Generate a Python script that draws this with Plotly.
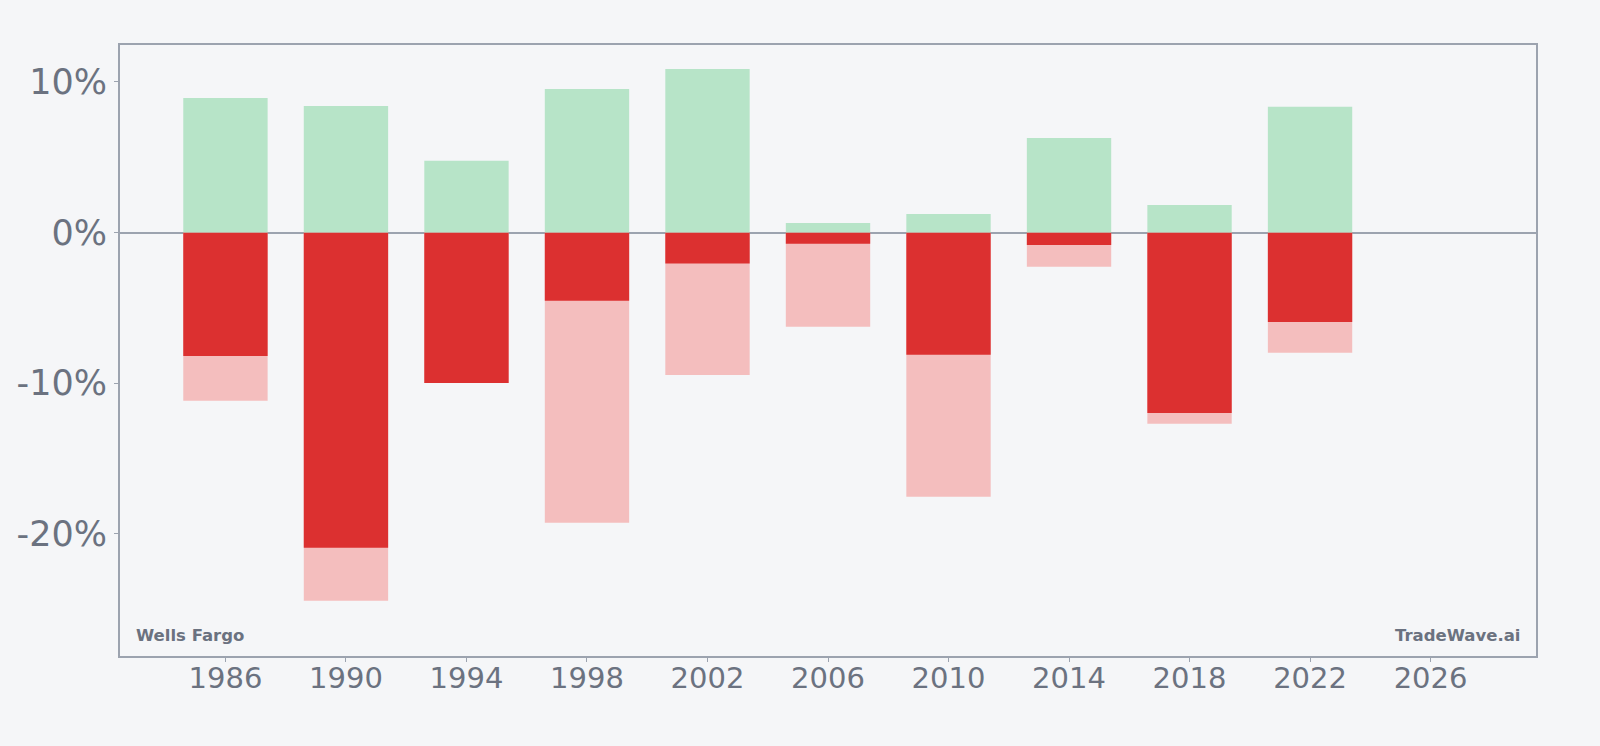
import plotly.graph_objects as go

years = [1986, 1990, 1994, 1998, 2002, 2006, 2010, 2014, 2018, 2022]
high_pct = [8.93, 8.40, 4.77, 9.53, 10.86, 0.63, 1.23, 6.27, 1.83, 8.35]
close_neg_pct = [-8.20, -20.93, -9.99, -4.53, -2.05, -0.74, -8.12, -0.83, -11.99, -5.94]
low_pct = [-11.17, -24.45, -9.99, -19.27, -9.46, -6.25, -17.54, -2.27, -12.70, -7.98]

x_ticks = [1986, 1990, 1994, 1998, 2002, 2006, 2010, 2014, 2018, 2022, 2026]
y_ticks = [-20, -10, 0, 10]
y_tick_labels = ["-20%", "-10%", "0%", "10%"]

BG = "#f5f6f8"
TXT = "#6b7280"
AX = "#9ca3af"

fig = go.Figure()
fig.add_trace(go.Bar(x=years, y=low_pct, width=2.8, marker=dict(color="#f4bebe", line=dict(width=0)),
                     name="Low", showlegend=False))
fig.add_trace(go.Bar(x=years, y=close_neg_pct, width=2.8, marker=dict(color="#dc3030", line=dict(width=0)),
                     name="Decline", showlegend=False))
fig.add_trace(go.Bar(x=years, y=high_pct, width=2.8, marker=dict(color="#b7e4c8", line=dict(width=0)),
                     name="Gain", showlegend=False))

fig.update_layout(
    barmode="overlay",
    width=1600, height=746,
    margin=dict(l=120, r=64, t=45, b=90),
    paper_bgcolor=BG, plot_bgcolor=BG,
    font=dict(family="DejaVu Sans", color=TXT),
    xaxis=dict(range=[1982.5, 2029.5], tickvals=x_ticks, ticks="outside", ticklen=4, tickcolor=AX,
               ticklabelstandoff=-9,
               tickfont=dict(size=29, color=TXT), showgrid=False, zeroline=False,
               showline=True, linecolor=AX, linewidth=2, mirror=True),
    yaxis=dict(range=[-28.12, 12.45], tickvals=y_ticks, ticktext=y_tick_labels, ticks="outside", ticklen=4,
               tickcolor=AX, tickfont=dict(size=35, color=TXT), showgrid=False,
               zeroline=True, zerolinecolor=AX, zerolinewidth=2, layer="above traces",
               showline=True, linecolor=AX, linewidth=2, mirror=True),
    annotations=[
        dict(text="<b>Wells Fargo</b>", xref="paper", yref="paper", x=0.01, y=0.015,
             xanchor="left", yanchor="bottom", showarrow=False, font=dict(size=16.5, color=TXT)),
        dict(text="<b>TradeWave.ai</b>", xref="paper", yref="paper", x=0.99, y=0.015,
             xanchor="right", yanchor="bottom", showarrow=False, font=dict(size=16.5, color=TXT)),
    ],
)

fig.write_html("out.html")
